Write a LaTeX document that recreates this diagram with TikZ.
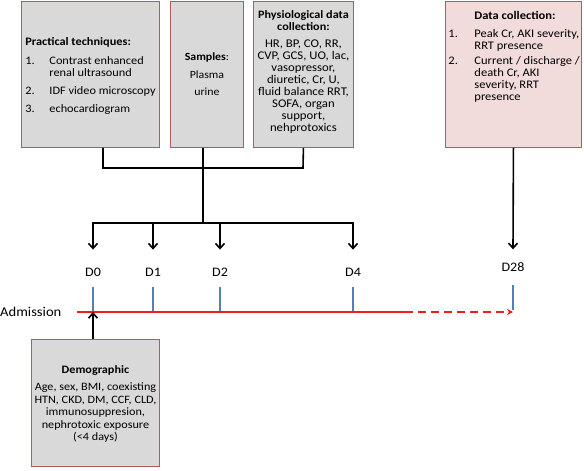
\documentclass[tikz,border=0pt]{standalone}
\usepackage{fontspec}
\setmainfont{Carlito}[FakeStretch=1.08]
\usetikzlibrary{arrows.meta}
\definecolor{boxgray}{HTML}{D9D9D9}
\definecolor{boxpink}{HTML}{F2DCDB}
\definecolor{bordercol}{HTML}{B25B5E}
\definecolor{tickblue}{HTML}{4F81BD}
\definecolor{tlred}{HTML}{EE1C1C}
\newcommand\numitem[4]{\hangindent=#1\hangafter=1\noindent\strut\makebox[#1][l]{\hspace*{#2}#3}#4\par}
\begin{document}
\begin{tikzpicture}[x=1pt,y=-1pt,
  gbox/.style={draw=bordercol, line width=0.9pt, fill=boxgray, anchor=north west, inner sep=0pt},
  pbox/.style={gbox, fill=boxpink},
  conn/.style={line width=1.6pt, black},
  arr/.style={conn, -{Straight Barb[length=5pt,width=9pt]}},
  dlabel/.style={font=\fontsize{13}{15}\selectfont, inner sep=0pt, anchor=base},
  tickline/.style={line width=1.1pt, tickblue},
  redline/.style={line width=1.6pt, tlred}]
\useasboundingbox (0,0) rectangle (584,471);

% top boxes
\node[gbox, minimum width=138pt] (b1) at (21,1) {\parbox[c][146pt][t]{136pt}{\raggedright\fontsize{11.4}{12}\selectfont
  \vspace*{36.1pt}\noindent\strut\hspace*{3pt}\textbf{Practical techniques:}\par
  \vspace{7pt}\numitem{27pt}{3pt}{1.}{Contrast enhanced\newline renal ultrasound}
  \vspace{5.5pt}\numitem{27pt}{3pt}{2.}{IDF video microscopy}
  \vspace{6pt}\numitem{27pt}{3pt}{3.}{echocardiogram}}};

\node[gbox, minimum width=73pt] (b2) at (170,1) {\parbox[c][146pt][t]{73pt}{\centering\fontsize{11}{12}\selectfont
  \vspace*{51.1pt}\strut\textbf{Samples}:\par
  \vspace{6pt}Plasma\par
  \vspace{5pt}urine}};

\node[gbox, minimum width=100pt] (b3) at (253,1) {\parbox[c][146pt][t]{100pt}{\centering\fontsize{11.3}{12}\selectfont
  \vspace*{9.1pt}\strut\textbf{Physiological data}\\\textbf{collection:}\par
  \vspace{5pt}\fontsize{11.8}{12}\selectfont HR, BP, CO, RR,\\CVP, GCS, UO, lac,\\vasopressor,\\diuretic, Cr, U,\\fluid balance RRT,\\SOFA, organ\\support,\\nehprotoxics}};

\node[pbox, minimum width=136pt] (b4) at (445,1) {\parbox[c][146pt][t]{136pt}{\raggedright\fontsize{11.6}{12}\selectfont
  \vspace*{10.1pt}\noindent\strut\hspace*{29pt}\textbf{Data collection:}\par
  \vspace{5.5pt}\numitem{29pt}{3pt}{1.}{Peak Cr, AKI severity,\newline RRT presence}
  \vspace{3.5pt}\numitem{29pt}{3pt}{2.}{Current / discharge /\newline death Cr, AKI\newline severity, RRT\newline presence}}};

% demographic box
\node[gbox, minimum width=128pt] (b5) at (31,339) {\parbox[c][127pt][t]{128pt}{\centering\fontsize{11.3}{12.5}\selectfont
  \vspace*{25.75pt}\strut\textbf{Demographic}\par
  \vspace{4.5pt}Age, sex, BMI, coexisting\\HTN, CKD, DM, CCF, CLD,\\immunosuppresion,\\nephrotoxic exposure\\(<4 days)}};

% day labels
\node[dlabel] (d0) at (93,276.2) {D0};
\node[dlabel] (d1) at (153,276.2) {D1};
\node[dlabel] (d2) at (220,276.2) {D2};
\node[dlabel] (d4) at (353,276.2) {D4};
\node[dlabel] (d28) at (513,271) {D28};

% admission + timeline coordinates
\node[font=\fontsize{13.5}{15}\selectfont, inner sep=0pt, anchor=west] (adm) at (0,312) {Admission};
\coordinate (tl0) at (77,312);
\coordinate (tlmid) at (405,312);
\coordinate (tlend) at (513,312);

% connectors from the top boxes
\coordinate (j1) at (103,168);
\coordinate (j2) at (303,168);
\coordinate (hub) at (203,223);
\draw[conn] (j1 |- b1.south) -- (j1) -- (j2) -- (b3.south);
\draw[conn] (hub |- b2.south) -- (hub);
\draw[conn, line cap=rect] (hub -| d0) -- (hub -| d4);
\draw[arr] (hub -| d0) -- ([yshift=18pt]d0.north);
\draw[arr] (hub -| d1) -- ([yshift=18pt]d1.north);
\draw[arr] (hub -| d2) -- ([yshift=18pt]d2.north);
\draw[arr] (hub -| d4) -- ([yshift=18pt]d4.north);
\draw[arr] (b4.south) -- ([yshift=12.6pt]d28.north);

% ticks
\draw[tickline] ([yshift=-11pt]d0.base) -- (d0 |- tl0);
\draw[tickline] ([yshift=-11pt]d1.base) -- (d1 |- tl0);
\draw[tickline] ([yshift=-11pt]d2.base) -- (d2 |- tl0);
\draw[tickline] ([yshift=-11pt]d4.base) -- (d4 |- tl0);
\draw[tickline] ([yshift=-14pt]d28.base) -- ([yshift=2pt]d28 |- tl0);

% timeline
\draw[redline] (tl0) -- (tlmid);
\draw[redline, dash pattern=on 8pt off 5pt, -{Stealth[length=6pt,width=6pt]}] (tlmid) -- (tlend);

% demographic arrow
\draw[arr] (b5.north -| d0) -- (d0 |- tl0);
\end{tikzpicture}
\end{document}
